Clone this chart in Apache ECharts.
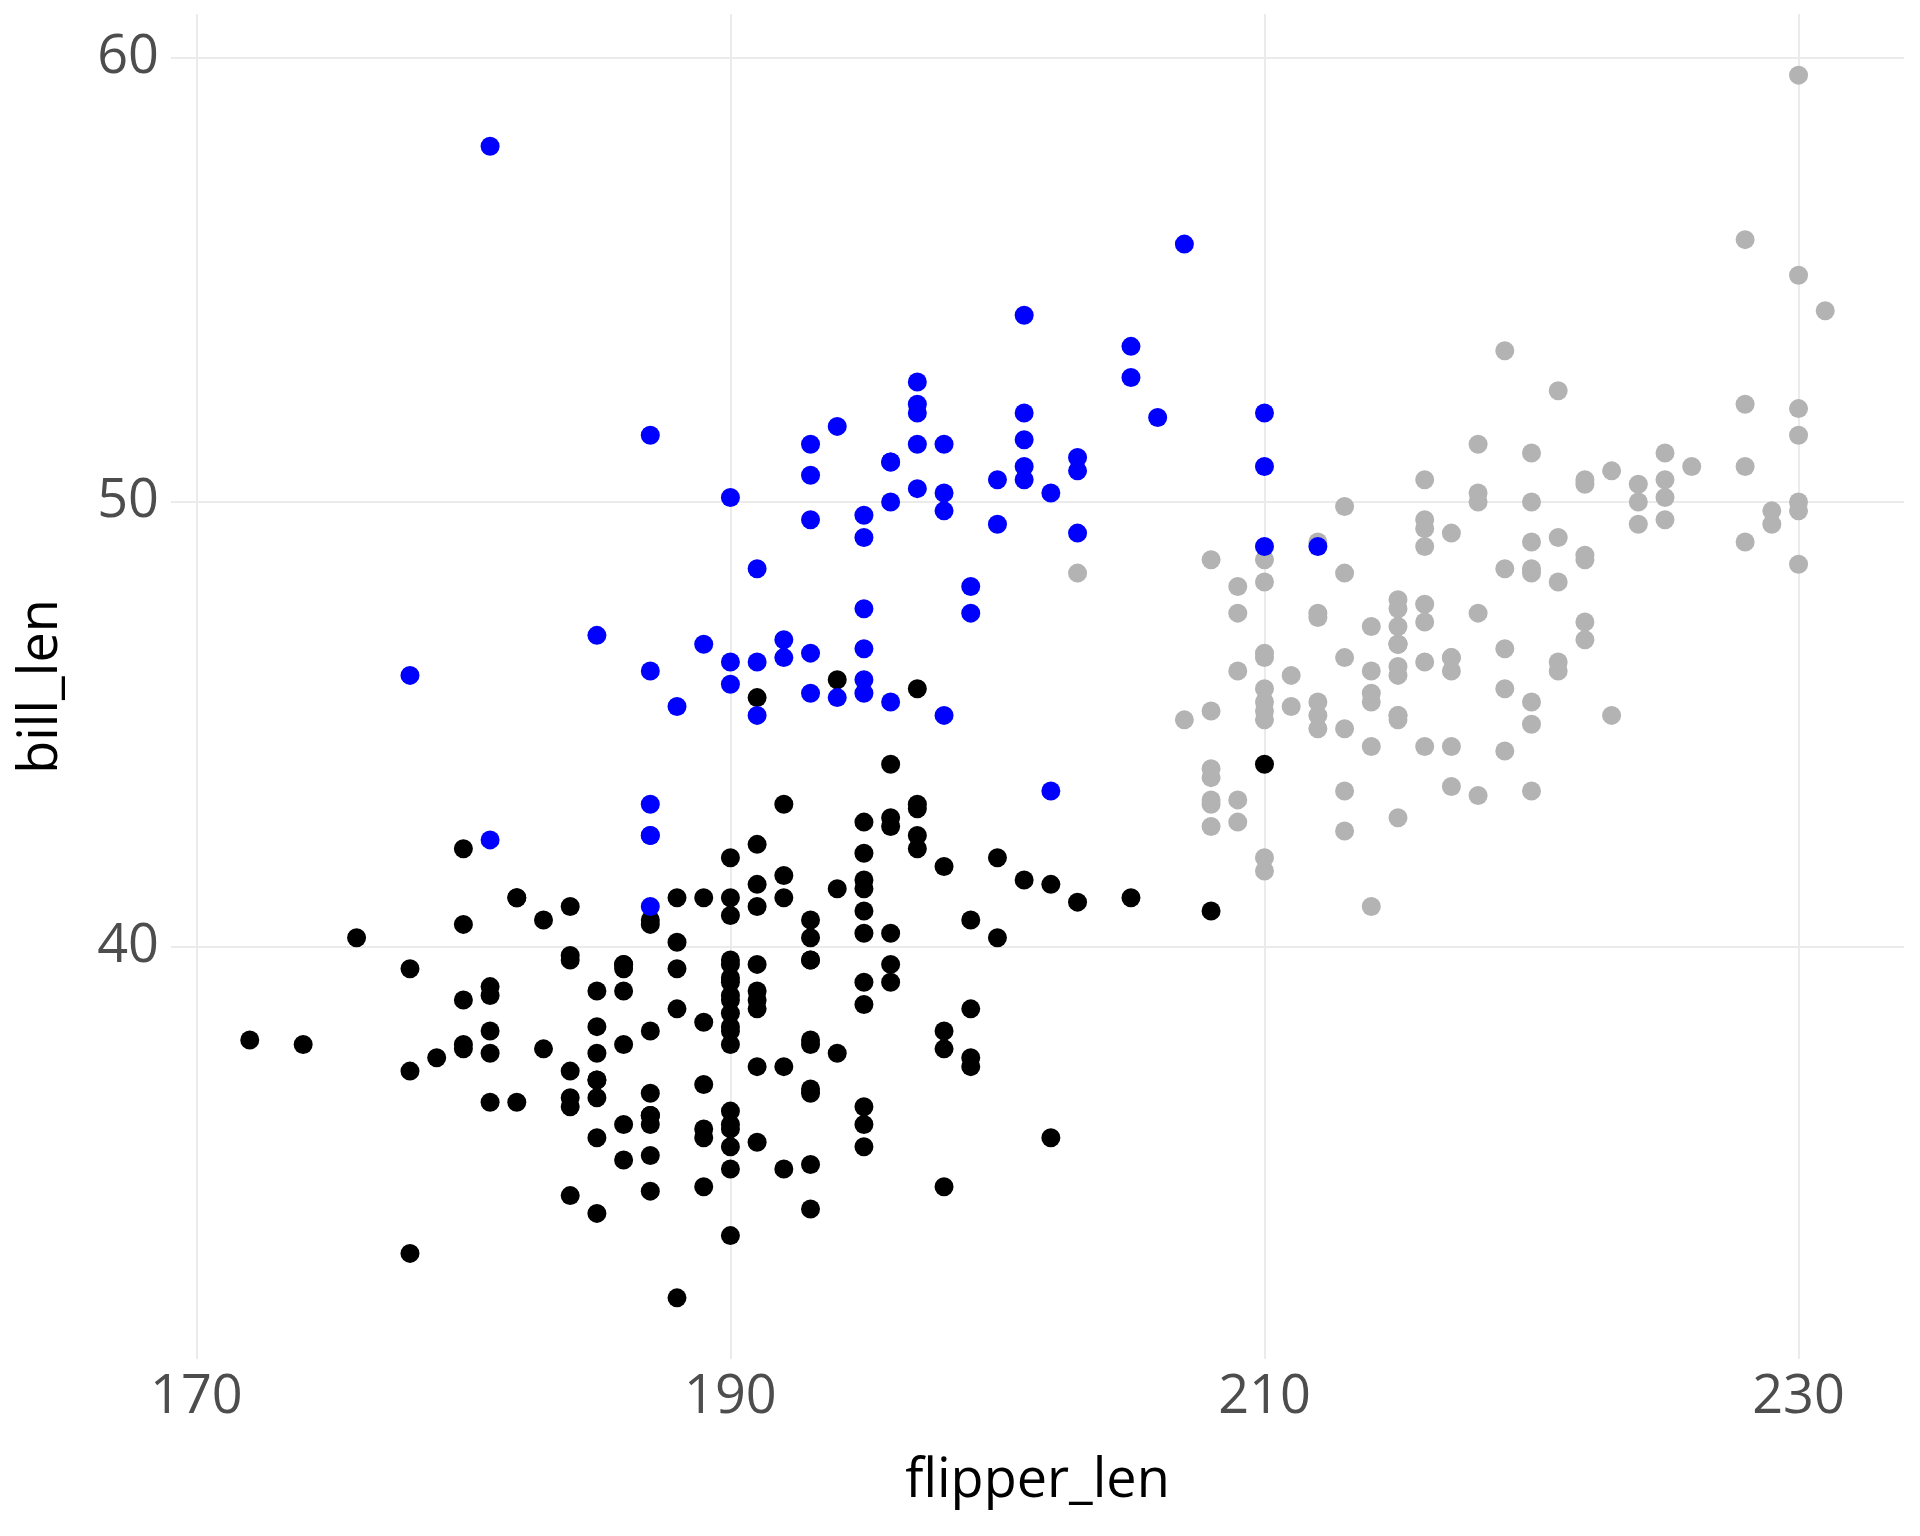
<!DOCTYPE html>
<html>
<head>
<meta charset="utf-8">
<script src="https://cdn.jsdelivr.net/npm/echarts@6/dist/echarts.min.js"></script>
<style>
html,body{margin:0;padding:0;background:#fff;}
#chart{width:1920px;height:1536px;}
</style>
</head>
<body>
<div id="chart"></div>
<script>
// Adelie
const adelieFlipper = [181,186,195,193,190,181,195,193,190,186,180,182,191,198,185,195,197,184,194,174,180,189,185,180,187,183,187,172,180,178,178,188,184,195,196,190,180,181,184,182,195,186,196,185,190,182,179,190,191,186,188,190,200,187,191,186,193,181,194,185,195,185,192,184,192,195,188,190,198,190,190,196,197,190,195,191,184,187,195,189,196,187,193,191,194,190,189,189,190,202,205,185,186,187,208,190,196,178,192,192,203,183,190,193,184,199,190,181,197,198,191,193,197,191,196,188,199,189,189,187,198,176,202,186,199,191,195,191,210,190,197,193,199,187,190,191,200,185,193,193,187,188,190,192,185,190,184,195,193,187,201];
const adelieBill = [39.1,39.5,40.3,36.7,39.3,38.9,39.2,34.1,42,37.8,37.8,41.1,38.6,34.6,36.6,38.7,42.5,34.4,46,37.8,37.7,35.9,38.2,38.8,35.3,40.6,40.5,37.9,40.5,39.5,37.2,39.5,40.9,36.4,39.2,38.8,42.2,37.6,39.8,36.5,40.8,36,44.1,37,39.6,41.1,37.5,36,42.3,39.6,40.1,35,42,34.5,41.4,39,40.6,36.5,37.6,35.7,41.3,37.6,41.1,36.4,41.6,35.5,41.1,35.9,41.8,33.5,39.7,39.6,45.8,35.5,42.8,40.9,37.2,36.2,42.1,34.6,42.9,36.7,35.1,37.3,41.3,36.3,36.9,38.3,38.9,35.7,41.1,34,39.6,36.2,40.8,38.1,40.3,33.1,43.2,35,41,37.7,37.8,37.9,39.7,38.6,38.2,38.1,43.2,38.1,45.6,39.7,42.2,39.6,42.7,38.6,37.3,35.7,41.1,36.2,37.7,40.2,41.4,35.2,40.6,38.8,41.5,39,44.1,38.5,43.1,36.8,37.5,38.1,41.1,35.6,40.2,37,39.7,40.2,40.6,32.1,40.7,37.3,39,39.2,36.6,36,37.8,36,41.5];
// Gentoo
const gentooFlipper = [211,230,210,218,215,210,211,219,209,215,214,216,214,213,210,217,210,221,209,222,218,215,213,215,215,215,216,215,210,220,222,209,207,230,220,220,213,219,208,208,208,225,210,216,222,217,210,225,213,215,210,220,210,225,217,220,208,220,208,224,208,221,214,231,219,230,214,229,220,223,216,221,221,217,216,230,209,220,215,223,212,221,212,224,212,228,218,218,212,230,218,228,212,224,214,226,216,222,203,225,219,228,215,228,216,215,210,219,208,209,216,229,213,230,217,230,217,222,214,215,222,212,213];
const gentooBill = [46.1,50,48.7,50,47.6,46.5,45.4,46.7,43.3,46.8,40.9,49,45.5,48.4,45.8,49.3,42,49.2,46.2,48.7,50.2,45.1,46.5,46.3,42.9,46.1,44.5,47.8,48.2,50,47.3,42.8,45.1,59.6,49.1,48.4,42.6,44.4,44,48.7,42.7,49.6,45.3,49.6,50.5,43.6,45.5,50.5,44.9,45.2,46.6,48.5,45.1,50.1,46.5,45,43.8,45.5,43.2,50.4,45.3,46.2,45.7,54.3,45.8,49.8,46.2,49.5,43.5,50.7,47.7,46.4,48.2,46.5,46.4,48.6,47.5,51.1,45.2,45.2,49.1,52.5,47.4,50,44.9,50.8,43.4,51.3,47.5,52.1,47.5,52.2,45.5,49.5,44.5,50.8,49.4,46.9,48.4,51.1,48.5,55.9,47.2,49.1,47.3,46.8,41.7,53.4,43.3,48.1,50.5,49.8,43.5,51.5,46.2,55.1,44.5,48.8,47.2,46.8,50.4,45.2,49.9];
// Chinstrap
const chinstrapFlipper = [192,196,193,188,197,198,178,197,195,198,193,194,185,201,190,201,197,181,190,195,181,191,187,193,195,197,200,200,191,205,187,201,187,203,195,199,195,210,192,205,210,187,196,196,196,201,190,212,187,198,199,201,193,203,187,197,191,203,202,194,206,189,195,207,202,193,210,198];
const chinstrapBill = [46.5,50,51.3,45.4,52.7,45.2,46.1,51.3,46,51.3,46.6,51.7,47,52,45.9,50.5,50.3,58,46.4,49.2,42.4,48.5,43.2,50.6,46.7,52,50.5,49.5,46.4,52.8,40.9,54.2,42.5,51,49.7,47.5,47.6,52,46.9,53.5,49,46.2,50.9,45.5,50.9,50.8,50.1,49,51.5,49.8,48.1,51.4,45.7,50.7,42.5,52.2,45.2,49.3,50.2,45.6,51.9,46.8,45.7,55.8,43.5,49.6,50.8,50.2];

const xTicks = [170,190,210,230];
const yTicks = [40,50,60];
const xTitle = 'flipper_len';
const yTitle = 'bill_len';

function pairs(xs, ys){ return xs.map((x,i)=>[x, ys[i]]); }

const FONT = '"Open Sans", sans-serif';
const chart = echarts.init(document.getElementById('chart'), null, {renderer:'canvas'});
const grid = '#EBEBEB';
chart.setOption({
  animation:false,
  backgroundColor:'#ffffff',
  grid:{left:171, right:16, top:14, bottom:177, containLabel:false, outerBoundsMode:'none'},
  xAxis:{
    type:'value', min:169.05, max:233.95,
    name:xTitle, nameLocation:'middle', nameGap:96,
    nameTextStyle:{color:'#000', fontSize:54, fontFamily:FONT},
    axisLine:{show:false},
    axisTick:{show:false, customValues:xTicks},
    axisLabel:{customValues:xTicks, color:'#4D4D4D', fontSize:54, fontFamily:FONT, margin:12},
    splitLine:{show:true, lineStyle:{color:grid, width:2}}
  },
  yAxis:{
    type:'value', min:30.725, max:60.975,
    name:yTitle, nameLocation:'middle', nameGap:102, nameRotate:90,
    nameTextStyle:{color:'#000', fontSize:54, fontFamily:FONT},
    axisLine:{show:false},
    axisTick:{show:false, customValues:yTicks},
    axisLabel:{customValues:yTicks, color:'#4D4D4D', fontSize:54, fontFamily:FONT, margin:12},
    splitLine:{show:true, lineStyle:{color:grid, width:2}}
  },
  series:[
    {type:'scatter', name:'Adelie', data:pairs(adelieFlipper, adelieBill), symbolSize:19, itemStyle:{color:'#000000', opacity:1}},
    {type:'scatter', name:'Gentoo', data:pairs(gentooFlipper, gentooBill), symbolSize:19, itemStyle:{color:'#B3B3B3', opacity:1}},
    {type:'scatter', name:'Chinstrap', data:pairs(chinstrapFlipper, chinstrapBill), symbolSize:19, itemStyle:{color:'#0000FF', opacity:1}}
  ]
});
</script>
</body>
</html>
